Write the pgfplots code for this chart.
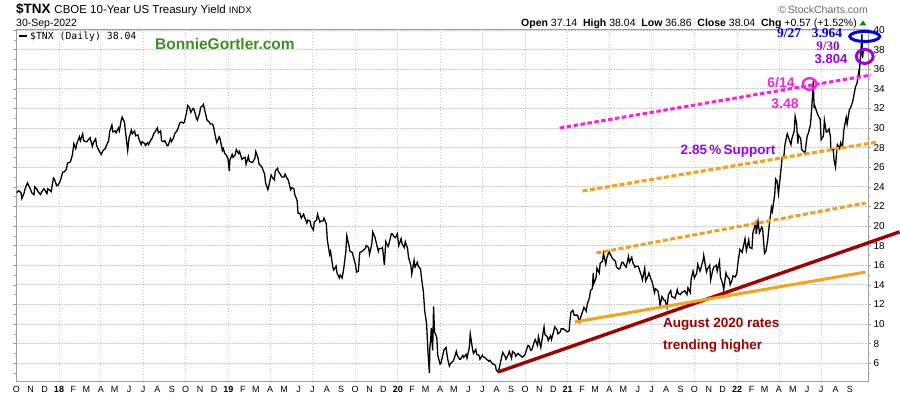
\documentclass[border=0pt]{standalone}
\usepackage{pgfplots}
\pgfplotsset{compat=1.18}
\usepgfplotslibrary{dateplot}
\usepackage{fontspec}
\setmainfont{Liberation Sans}
\newfontfamily\serifb{Liberation Serif}
\newfontfamily\monof{DejaVu Sans Mono}
\definecolor{magline}{HTML}{FF1EE6}
\definecolor{magtext}{HTML}{F527D2}
\definecolor{orng}{HTML}{F7A21B}
\definecolor{dred}{HTML}{A00000}
\definecolor{purp}{HTML}{9900F0}
\definecolor{blu}{HTML}{0000E6}
\definecolor{grn}{HTML}{3E8E25}
\definecolor{gridc}{HTML}{C8C8C8}
\pgfplotstableread{
date v
2017-10-02 23.4
2017-10-06 23.6
2017-10-11 23.4
2017-10-13 22.8
2017-10-18 23.4
2017-10-20 23.8
2017-10-25 24.4
2017-10-27 24.2
2017-11-01 23.7
2017-11-03 23.4
2017-11-08 23.2
2017-11-10 24.0
2017-11-15 23.7
2017-11-17 23.5
2017-11-22 23.2
2017-11-24 23.4
2017-11-29 23.8
2017-12-01 23.7
2017-12-06 23.3
2017-12-08 23.8
2017-12-13 23.6
2017-12-15 23.5
2017-12-20 24.9
2017-12-22 24.8
2017-12-27 24.1
2017-12-29 24.1
2018-01-03 24.5
2018-01-05 24.8
2018-01-09 25.5
2018-01-12 25.5
2018-01-17 25.8
2018-01-19 26.4
2018-01-24 26.5
2018-01-26 26.6
2018-01-30 27.3
2018-02-02 28.4
2018-02-06 27.9
2018-02-09 28.5
2018-02-14 29.1
2018-02-16 28.7
2018-02-21 29.4
2018-02-23 28.7
2018-02-28 28.6
2018-03-02 28.6
2018-03-07 28.9
2018-03-09 29.0
2018-03-14 28.1
2018-03-16 28.5
2018-03-21 28.9
2018-03-23 28.2
2018-03-28 27.7
2018-04-02 27.3
2018-04-06 27.7
2018-04-11 27.9
2018-04-13 28.2
2018-04-18 28.7
2018-04-20 29.6
2018-04-25 30.3
2018-04-27 29.6
2018-05-02 29.7
2018-05-04 29.5
2018-05-09 30.0
2018-05-11 29.7
2018-05-15 30.8
2018-05-17 31.1
2018-05-22 30.6
2018-05-25 29.3
2018-05-29 27.7
2018-06-01 29.0
2018-06-06 29.8
2018-06-08 29.4
2018-06-13 29.7
2018-06-15 29.2
2018-06-20 29.3
2018-06-22 28.9
2018-06-27 28.3
2018-06-29 28.6
2018-07-05 28.4
2018-07-06 28.2
2018-07-11 28.5
2018-07-13 28.3
2018-07-18 28.8
2018-07-20 28.9
2018-07-25 29.5
2018-07-27 29.6
2018-08-01 30.0
2018-08-03 29.5
2018-08-08 29.7
2018-08-10 28.7
2018-08-15 28.6
2018-08-17 28.7
2018-08-22 28.2
2018-08-24 28.2
2018-08-29 28.9
2018-08-31 28.6
2018-09-05 29.0
2018-09-07 29.4
2018-09-12 29.7
2018-09-14 29.9
2018-09-18 30.5
2018-09-21 30.6
2018-09-26 30.5
2018-09-28 30.6
2018-10-03 31.6
2018-10-05 32.3
2018-10-09 32.1
2018-10-12 31.6
2018-10-17 32.0
2018-10-19 31.9
2018-10-24 31.0
2018-10-26 30.8
2018-10-31 31.5
2018-11-02 32.1
2018-11-07 32.3
2018-11-08 32.4
2018-11-14 31.2
2018-11-16 30.8
2018-11-21 30.6
2018-11-23 30.4
2018-11-28 30.4
2018-11-30 30.1
2018-12-04 29.1
2018-12-07 28.5
2018-12-12 29.1
2018-12-14 28.9
2018-12-19 27.7
2018-12-21 27.9
2018-12-24 27.4
2018-12-28 27.2
2018-12-31 26.9
2019-01-03 25.6
2019-01-04 26.7
2019-01-09 27.3
2019-01-11 27.0
2019-01-16 27.3
2019-01-18 27.8
2019-01-23 27.4
2019-01-25 27.6
2019-01-30 26.8
2019-02-01 26.9
2019-02-06 27.0
2019-02-08 26.3
2019-02-13 27.1
2019-02-15 26.6
2019-02-20 26.5
2019-02-22 26.5
2019-02-27 26.9
2019-03-01 27.6
2019-03-06 26.9
2019-03-08 26.3
2019-03-13 26.1
2019-03-15 25.9
2019-03-20 25.3
2019-03-22 24.4
2019-03-27 23.7
2019-03-29 24.1
2019-04-03 25.2
2019-04-05 25.0
2019-04-10 24.7
2019-04-12 25.6
2019-04-17 25.9
2019-04-18 25.6
2019-04-24 25.2
2019-04-26 25.0
2019-05-01 25.0
2019-05-03 25.3
2019-05-08 24.8
2019-05-10 24.7
2019-05-15 23.7
2019-05-17 23.9
2019-05-22 23.8
2019-05-24 23.2
2019-05-29 22.6
2019-05-31 21.3
2019-06-04 21.3
2019-06-07 20.8
2019-06-12 21.2
2019-06-14 20.9
2019-06-19 20.3
2019-06-21 20.6
2019-06-26 20.5
2019-06-28 20.0
2019-07-03 19.6
2019-07-05 20.4
2019-07-10 20.6
2019-07-12 21.2
2019-07-17 20.4
2019-07-19 20.5
2019-07-24 20.5
2019-07-26 20.8
2019-07-31 20.2
2019-08-02 18.6
2019-08-07 17.1
2019-08-09 17.4
2019-08-14 15.8
2019-08-16 15.5
2019-08-21 15.9
2019-08-23 15.2
2019-08-28 14.7
2019-08-30 15.0
2019-09-03 14.7
2019-09-06 15.5
2019-09-11 17.4
2019-09-13 19.0
2019-09-18 17.9
2019-09-20 17.4
2019-09-25 17.3
2019-09-27 16.9
2019-10-02 16.0
2019-10-04 15.3
2019-10-08 15.4
2019-10-11 17.3
2019-10-16 17.4
2019-10-18 17.5
2019-10-23 17.7
2019-10-25 18.0
2019-10-30 17.8
2019-11-01 17.1
2019-11-06 18.2
2019-11-08 19.4
2019-11-13 18.8
2019-11-15 18.4
2019-11-20 17.4
2019-11-22 17.7
2019-11-27 17.7
2019-11-29 17.8
2019-12-03 16.0
2019-12-06 18.4
2019-12-11 17.9
2019-12-13 18.2
2019-12-18 19.2
2019-12-20 19.2
2019-12-24 18.9
2019-12-27 18.8
2019-12-31 19.2
2020-01-03 18.0
2020-01-08 18.7
2020-01-10 18.2
2020-01-15 17.8
2020-01-17 18.4
2020-01-22 17.7
2020-01-24 16.8
2020-01-29 16.0
2020-01-31 15.1
2020-02-05 16.5
2020-02-07 15.8
2020-02-12 16.3
2020-02-14 15.9
2020-02-19 15.6
2020-02-21 14.7
2020-02-25 13.3
2020-02-28 11.3
2020-03-03 10.0
2020-03-06 7.1
2020-03-09 5.0
2020-03-10 7.6
2020-03-12 8.5
2020-03-13 9.6
2020-03-16 7.3
2020-03-18 11.8
2020-03-20 9.2
2020-03-25 8.6
2020-03-27 6.8
2020-04-01 5.9
2020-04-03 6.0
2020-04-09 7.3
2020-04-14 7.6
2020-04-17 6.5
2020-04-21 5.7
2020-04-24 6.0
2020-04-29 6.2
2020-05-01 6.4
2020-05-06 7.2
2020-05-08 6.8
2020-05-13 6.4
2020-05-15 6.4
2020-05-20 6.8
2020-05-22 6.6
2020-05-27 6.9
2020-05-29 6.5
2020-06-03 7.6
2020-06-05 9.0
2020-06-10 7.4
2020-06-12 7.0
2020-06-17 7.4
2020-06-19 6.9
2020-06-24 6.8
2020-06-26 6.4
2020-07-01 6.8
2020-07-02 6.7
2020-07-08 6.5
2020-07-10 6.4
2020-07-15 6.2
2020-07-17 6.3
2020-07-22 6.0
2020-07-24 5.9
2020-07-29 5.8
2020-07-31 5.3
2020-08-04 5.1
2020-08-07 5.6
2020-08-12 6.7
2020-08-14 7.1
2020-08-19 6.7
2020-08-21 6.4
2020-08-26 6.9
2020-08-28 7.2
2020-09-02 6.5
2020-09-04 7.2
2020-09-09 7.0
2020-09-11 6.7
2020-09-16 7.0
2020-09-18 6.9
2020-09-23 6.7
2020-09-25 6.6
2020-09-30 6.8
2020-10-02 7.0
2020-10-07 7.8
2020-10-09 7.8
2020-10-14 7.3
2020-10-16 7.4
2020-10-21 8.2
2020-10-23 8.4
2020-10-28 7.8
2020-10-30 8.7
2020-11-04 7.6
2020-11-06 8.2
2020-11-11 9.7
2020-11-13 8.9
2020-11-18 8.7
2020-11-20 8.3
2020-11-25 8.8
2020-11-27 8.4
2020-12-02 9.3
2020-12-04 9.7
2020-12-09 9.4
2020-12-11 9.0
2020-12-16 9.2
2020-12-18 9.5
2020-12-23 9.5
2020-12-28 9.3
2020-12-31 9.2
2021-01-04 9.3
2021-01-06 10.4
2021-01-08 11.2
2021-01-12 11.4
2021-01-15 10.9
2021-01-20 10.9
2021-01-22 10.9
2021-01-27 10.2
2021-01-29 10.7
2021-02-03 11.4
2021-02-05 11.7
2021-02-10 11.3
2021-02-12 12.0
2021-02-17 12.7
2021-02-19 13.4
2021-02-23 13.6
2021-02-25 15.2
2021-02-26 14.1
2021-03-03 14.7
2021-03-05 15.7
2021-03-10 15.2
2021-03-12 16.2
2021-03-17 16.4
2021-03-19 17.2
2021-03-24 16.1
2021-03-26 16.7
2021-03-31 17.4
2021-04-02 17.2
2021-04-07 16.7
2021-04-09 16.6
2021-04-14 16.4
2021-04-16 15.8
2021-04-21 15.6
2021-04-23 15.6
2021-04-28 16.3
2021-04-30 16.3
2021-05-05 15.9
2021-05-07 15.8
2021-05-12 16.9
2021-05-14 16.3
2021-05-19 16.8
2021-05-21 16.3
2021-05-26 15.8
2021-05-28 15.9
2021-06-02 15.9
2021-06-04 15.6
2021-06-09 14.9
2021-06-11 14.5
2021-06-16 15.7
2021-06-18 14.4
2021-06-23 14.9
2021-06-25 15.2
2021-06-30 14.5
2021-07-02 14.3
2021-07-07 13.2
2021-07-09 13.6
2021-07-14 13.4
2021-07-16 13.0
2021-07-19 11.9
2021-07-23 12.8
2021-07-28 12.4
2021-07-30 12.4
2021-08-03 11.7
2021-08-06 13.0
2021-08-11 13.4
2021-08-13 12.8
2021-08-18 12.7
2021-08-20 12.6
2021-08-25 13.5
2021-08-27 13.1
2021-09-01 13.0
2021-09-03 13.2
2021-09-08 13.3
2021-09-10 13.4
2021-09-15 13.0
2021-09-17 13.7
2021-09-22 13.2
2021-09-24 14.6
2021-09-28 15.4
2021-10-01 14.7
2021-10-06 15.2
2021-10-08 16.1
2021-10-13 15.4
2021-10-15 15.7
2021-10-20 16.6
2021-10-21 17.0
2021-10-27 15.3
2021-10-29 15.6
2021-11-03 16.0
2021-11-05 14.5
2021-11-10 15.6
2021-11-12 15.8
2021-11-17 16.0
2021-11-19 15.4
2021-11-24 16.4
2021-11-26 14.8
2021-12-01 14.1
2021-12-03 13.5
2021-12-08 15.2
2021-12-10 14.9
2021-12-15 14.6
2021-12-17 14.0
2021-12-22 14.6
2021-12-23 14.9
2021-12-28 14.8
2021-12-31 15.1
2022-01-03 16.3
2022-01-07 17.6
2022-01-12 17.3
2022-01-14 17.8
2022-01-18 18.7
2022-01-21 17.5
2022-01-26 18.6
2022-01-28 17.8
2022-02-02 17.7
2022-02-04 19.3
2022-02-10 20.3
2022-02-11 19.2
2022-02-15 20.5
2022-02-18 19.3
2022-02-23 19.9
2022-02-25 19.7
2022-03-01 17.2
2022-03-04 17.4
2022-03-08 18.6
2022-03-11 20.0
2022-03-16 21.9
2022-03-18 21.5
2022-03-23 23.2
2022-03-25 24.8
2022-03-28 24.6
2022-03-31 23.3
2022-04-05 25.5
2022-04-08 27.0
2022-04-12 27.2
2022-04-14 28.3
2022-04-19 29.4
2022-04-22 29.0
2022-04-27 28.3
2022-04-29 28.9
2022-05-04 29.7
2022-05-06 31.2
2022-05-09 30.5
2022-05-12 28.4
2022-05-13 29.3
2022-05-18 28.9
2022-05-20 27.8
2022-05-26 27.5
2022-05-27 27.4
2022-06-01 29.2
2022-06-03 29.4
2022-06-08 30.3
2022-06-10 31.6
2022-06-13 33.7
2022-06-14 34.8
2022-06-15 33.3
2022-06-16 32.0
2022-06-17 32.3
2022-06-22 31.6
2022-06-24 31.3
2022-06-29 30.9
2022-06-30 29.8
2022-07-01 28.8
2022-07-06 29.2
2022-07-08 30.8
2022-07-12 29.6
2022-07-14 29.6
2022-07-18 29.9
2022-07-21 29.1
2022-07-22 27.8
2022-07-27 27.8
2022-07-29 26.7
2022-08-01 26.0
2022-08-03 27.3
2022-08-05 28.3
2022-08-10 27.9
2022-08-12 28.5
2022-08-16 28.1
2022-08-19 29.8
2022-08-24 31.1
2022-08-26 30.4
2022-08-31 31.9
2022-09-02 32.0
2022-09-07 32.7
2022-09-09 33.2
2022-09-13 34.2
2022-09-16 34.5
2022-09-20 35.7
2022-09-21 35.3
2022-09-23 36.9
2022-09-26 38.8
2022-09-27 39.6
2022-09-28 37.1
2022-09-29 37.5
2022-09-30 38.0
}\tnx
\begin{document}
\begin{tikzpicture}[x=1bp,y=1bp]
\path[use as bounding box] (0,0) rectangle (900,396);
\begin{axis}[
  at={(16.3bp,15bp)}, anchor=south west,
  scale only axis, width=851.7bp, height=352bp,
  date coordinates in=x, date ZERO=2017-10-01,
  xmin=2017-10-01, xmax=2022-10-10,
  ymin=4.18, ymax=40.1,
  clip=false,
  axis line style={draw=gray!75},
  xtick={2017-10-01,2017-11-01,2017-12-01,
    2018-01-01,2018-02-01,2018-03-01,2018-04-01,2018-05-01,2018-06-01,2018-07-01,2018-08-01,2018-09-01,2018-10-01,2018-11-01,2018-12-01,
    2019-01-01,2019-02-01,2019-03-01,2019-04-01,2019-05-01,2019-06-01,2019-07-01,2019-08-01,2019-09-01,2019-10-01,2019-11-01,2019-12-01,
    2020-01-01,2020-02-01,2020-03-01,2020-04-01,2020-05-01,2020-06-01,2020-07-01,2020-08-01,2020-09-01,2020-10-01,2020-11-01,2020-12-01,
    2021-01-01,2021-02-01,2021-03-01,2021-04-01,2021-05-01,2021-06-01,2021-07-01,2021-08-01,2021-09-01,2021-10-01,2021-11-01,2021-12-01,
    2022-01-01,2022-02-01,2022-03-01,2022-04-01,2022-05-01,2022-06-01,2022-07-01,2022-08-01,2022-09-01},
  xticklabels={O,N,D,\textbf{18},F,M,A,M,J,J,A,S,O,N,D,\textbf{19},F,M,A,M,J,J,A,S,O,N,D,\textbf{20},F,M,A,M,J,J,A,S,O,N,D,\textbf{21},F,M,A,M,J,J,A,S,O,N,D,\textbf{22},F,M,A,M,J,J,A,S},
  xtick style={draw=none},
  extra x ticks={2018-01-01,2018-04-01,2018-07-01,2018-10-01,2019-01-01,2019-04-01,2019-07-01,2019-10-01,2020-01-01,2020-04-01,2020-07-01,2020-10-01,2021-01-01,2021-04-01,2021-07-01,2021-10-01,2022-01-01,2022-04-01,2022-07-01},
  extra x tick labels={},
  extra x tick style={xmajorgrids=true, ymajorgrids=false, xtick style={draw=none}},
  major grid style={draw=gridc, line width=0.7bp, dash pattern=on 1.5bp off 1.5bp},
  ytick={6,8,...,40},
  minor ytick={5,7,...,39},
  ymajorgrids=true,
  yticklabel pos=right,
  tick align=outside,
  major tick length=3bp, minor tick length=2bp,
  ytick style={draw=gray!75},
  /pgf/number format/assume math mode=true,
  yticklabel style={font=\fontsize{10bp}{11bp}\selectfont, xshift=-1bp},
  xticklabel style={font=\fontsize{9bp}{10bp}\selectfont, yshift=1.5bp},
]
\addplot[black, line width=1.3bp] table[x=date, y=v]{\tnx};
% trend lines
\addplot[magline, line width=3bp, dash pattern=on 4.5bp off 2.5bp] coordinates {(2020-12-15,30.0) (2022-10-16,35.4)};
\addplot[orng, line width=3.2bp, dash pattern=on 5bp off 2.5bp] coordinates {(2021-02-02,23.57) (2022-10-31,28.57)};
\addplot[orng!90!brown, line width=3bp, dash pattern=on 5bp off 2.5bp] coordinates {(2021-03-04,17.24) (2022-10-05,22.35)};
\addplot[dred, line width=3.4bp] coordinates {(2020-08-04,5.1) (2022-12-17,19.4)};
\addplot[orng, line width=3bp] coordinates {(2021-01-16,10.2) (2022-10-05,15.3)};
% circled points
\addplot[only marks, mark=o, mark size=5bp, mark options={xscale=3, draw=blu, line width=3bp}] coordinates {(2022-10-03,39.34)};
\addplot[only marks, mark=o, mark size=7bp, mark options={xscale=1.2, draw=purp, line width=3bp}] coordinates {(2022-10-03,37.3)};
\addplot[only marks, mark=o, mark size=5.8bp, mark options={xscale=1.17, draw=magline, line width=2.4bp}] coordinates {(2022-06-06,34.49)};
\end{axis}
% header
\node[anchor=base west, inner sep=0] at (16,383) {\fontsize{13.5bp}{15bp}\selectfont\bfseries \$TNX\ \fontsize{11.5bp}{13bp}\mdseries CBOE 10-Year US Treasury Yield \fontsize{9.5bp}{11bp}\selectfont INDX};
\node[anchor=base west, inner sep=0] at (16,370) {\fontsize{10.5bp}{12bp}\selectfont 30-Sep-2022};
\node[anchor=base east, inner sep=0, text=gray!85!black] at (868,383) {\fontsize{10.5bp}{12bp}\selectfont \textcopyright\,StockCharts.com};
\node[anchor=base east, inner sep=0] at (857,370) {\fontsize{10.5bp}{12bp}\selectfont \textbf{Open} 37.14\ \ \textbf{High} 38.04\ \ \textbf{Low} 36.86\ \ \textbf{Close} 38.04\ \ \textbf{Chg} +0.57 (+1.52\%)};
\fill[green!55!black] (859.5,370.5) -- (866.5,370.5) -- (863,375.5) -- cycle;
% legend
\draw[black, line width=1.6bp] (19,360) -- (27,360);
\node[anchor=base west, inner sep=0] at (30,356.5) {\monof\fontsize{9.8bp}{11bp}\selectfont \$TNX (Daily) 38.04};
\node[anchor=base west, inner sep=0, text=grn] at (155,347) {\fontsize{15.5bp}{17bp}\selectfont\bfseries BonnieGortler.com};
% annotations
\node[inner sep=0, text=blu] at (789,362.5) {\serifb\fontsize{13.5bp}{15bp}\selectfont\bfseries 9/27};
\node[inner sep=0, text=blu] at (827,362.5) {\serifb\fontsize{13.5bp}{15bp}\selectfont\bfseries 3.964};
\node[inner sep=0, text=purp] at (828,350) {\serifb\fontsize{13bp}{15bp}\selectfont\bfseries 9/30};
\node[inner sep=0, text=purp] at (831,337) {\fontsize{13bp}{15bp}\selectfont\bfseries 3.804};
\node[inner sep=0, text=magtext] at (781,313) {\fontsize{14bp}{16bp}\selectfont\bfseries 6/14};
\node[inner sep=0, text=magtext] at (785,292) {\fontsize{14bp}{16bp}\selectfont\bfseries 3.48};
\node[inner sep=0, text=purp] at (728,245) {\fontsize{13.5bp}{15bp}\selectfont\bfseries 2.85\,\%\,Support};
\node[anchor=base west, inner sep=0, text=dred] at (663,69) {\fontsize{13.5bp}{15bp}\selectfont\bfseries August 2020 rates};
\node[anchor=base west, inner sep=0, text=dred] at (663,47) {\fontsize{13.5bp}{15bp}\selectfont\bfseries trending higher};
\end{tikzpicture}
\end{document}
